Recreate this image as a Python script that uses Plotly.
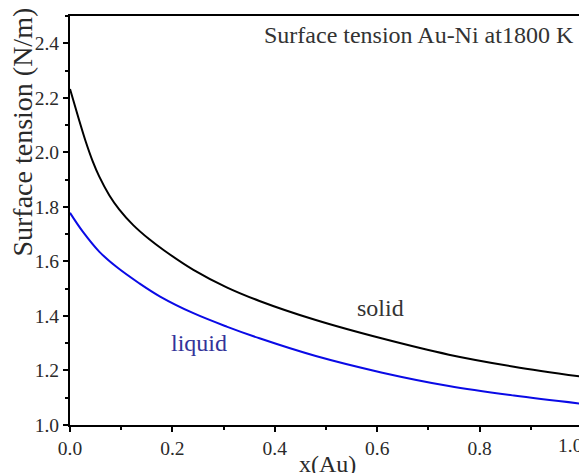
import plotly.graph_objects as go

x_solid = [0.0, 0.018, 0.031, 0.044, 0.057, 0.077, 0.096, 0.123, 0.155, 0.184, 0.241, 0.306, 0.37, 0.48, 0.61, 0.74, 0.867, 1.0]
y_solid = [2.232, 2.117, 2.038, 1.969, 1.912, 1.842, 1.791, 1.734, 1.681, 1.640, 1.569, 1.505, 1.455, 1.385, 1.317, 1.258, 1.214, 1.177]

x_liquid = [0.0, 0.025, 0.057, 0.090, 0.135, 0.176, 0.241, 0.306, 0.37, 0.48, 0.61, 0.74, 0.867, 1.0]
y_liquid = [1.778, 1.709, 1.636, 1.581, 1.520, 1.471, 1.410, 1.361, 1.318, 1.253, 1.192, 1.143, 1.108, 1.078]

x_ticks = [0.0, 0.2, 0.4, 0.6, 0.8, 1.0]
x_tick_labels = ["0.0", "0.2", "0.4", "0.6", "0.8", "1.0"]
y_ticks = [1.0, 1.2, 1.4, 1.6, 1.8, 2.0, 2.2, 2.4]

FONT = "Liberation Serif"
TXT = "#2a2a2a"

fig = go.Figure()
fig.add_trace(go.Scatter(x=x_solid, y=y_solid, mode="lines",
                         line=dict(color="black", width=2, shape="spline", smoothing=1.0),
                         name="solid", showlegend=False))
fig.add_trace(go.Scatter(x=x_liquid, y=y_liquid, mode="lines",
                         line=dict(color="#0a0ae6", width=2, shape="spline", smoothing=1.0),
                         name="liquid", showlegend=False))

fig.add_annotation(x=0.606, y=1.428, text="solid", showarrow=False,
                   font=dict(family=FONT, size=24, color="#333333"))
fig.add_annotation(x=0.251, y=1.30, text="liquid", showarrow=False,
                   font=dict(family=FONT, size=24, color="#333399"))
fig.add_annotation(x=1, y=0.9535, xref="paper", yref="paper", xanchor="right", yanchor="middle",
                   xshift=-6, text="Surface tension Au-Ni at1800 K", showarrow=False,
                   font=dict(family=FONT, size=24, color="#333333"))
# last x tick label, nudged left so it stays inside the page
fig.add_annotation(x=x_ticks[-1], y=0, xref="x", yref="paper", xanchor="center", yanchor="middle",
                   xshift=-12, yshift=-20.5, text=x_tick_labels[-1], showarrow=False,
                   font=dict(family=FONT, size=19.5, color=TXT))
# axis titles
fig.add_annotation(x=0.503, y=-0.0954, xref="paper", yref="paper", xanchor="center", yanchor="middle",
                   text="x(Au)", showarrow=False,
                   font=dict(family=FONT, size=24, color=TXT))
fig.add_annotation(x=0, y=0.715, xref="paper", yref="paper", xanchor="center", yanchor="middle",
                   xshift=-47, textangle=-90, text="Surface tension (N/m)", showarrow=False,
                   font=dict(family=FONT, size=28, color=TXT))

axis_common = dict(showline=True, linecolor="black", linewidth=2, mirror=True,
                   ticks="outside", ticklen=5, tickwidth=2, tickcolor="black",
                   showgrid=False, zeroline=False,
                   tickfont=dict(family=FONT, size=19.5, color=TXT))

fig.update_xaxes(range=[0, 1], tickvals=x_ticks, ticktext=x_tick_labels[:-1] + [""],
                 minor=dict(ticks="outside", ticklen=3, tickwidth=2, tickcolor="black", dtick=0.1),
                 **axis_common)
fig.update_yaxes(range=[1.0, 2.5], tickvals=y_ticks, tickformat=".1f",
                 minor=dict(ticks="outside", ticklen=3, tickwidth=2, tickcolor="black", dtick=0.1),
                 **axis_common)

fig.update_layout(width=579, height=465,
                  margin=dict(l=62, r=5, t=8, b=48, autoexpand=False),
                  plot_bgcolor="white", paper_bgcolor="white")

fig.write_html("out.html")
